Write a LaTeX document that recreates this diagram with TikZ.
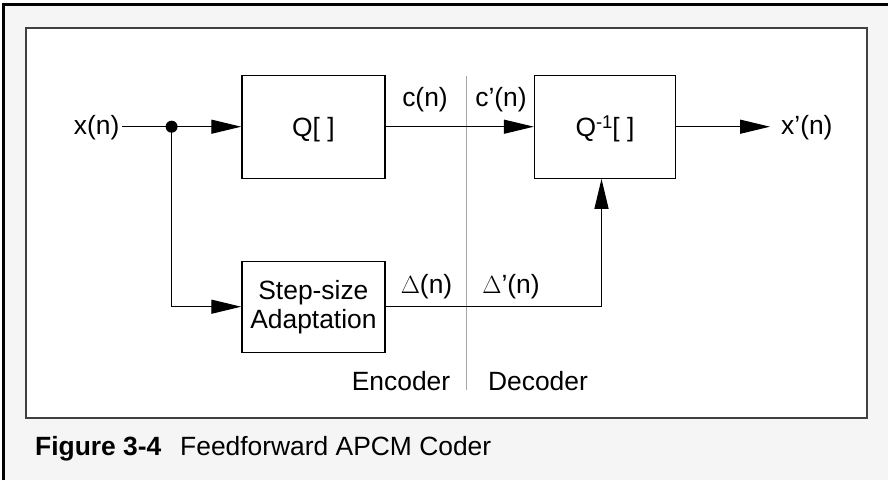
\documentclass[tikz,border=0pt]{standalone}
\usepackage{fontspec}
\setmainfont{Liberation Sans}
\usetikzlibrary{arrows.meta}
\tikzset{
    blk/.style={draw, line width=1.3pt, minimum width=143pt, minimum height=103pt, inner sep=0pt, text height=19pt, text depth=0pt},
    lbl/.style={anchor=base, inner sep=0pt},
    sig/.style={line width=1.3pt},
    arr/.style={sig, -{Triangle[length=30pt,width=14pt]}},
}
\begin{document}
\begin{tikzpicture}[x=1pt, y=-1pt, font=\fontsize{26.4}{29}\selectfont]
    \useasboundingbox (0,0) rectangle (888,480);
    \fill[black!4] (3.5,4.5) rectangle (888,480);
    \draw[line width=3pt] (3.5,480) -- (3.5,4.5) -- (888,4.5);
    \draw[fill=white, draw=black!75, line width=2pt] (26,28) rectangle (867,418);
    \coordinate (divtop) at (466.6,76);
    \coordinate (divbot) at (466.6,390);
    \draw[black!35, line width=1pt] (divtop) -- (divbot);
    \node[blk] (q) at (313.4,126.7) {Q[ ]};
    \node[blk, minimum width=141pt] (qinv) at (605,126.7) {Q\raisebox{8pt}{\fontsize{18.5}{18.5}\selectfont -1}[ ]};
    \node[draw, line width=1.3pt, minimum width=143pt, minimum height=91pt, inner sep=0pt, align=center] (step) at (313.4,306.7) {Step-size\\Adaptation};
    \node[lbl, anchor=base east] (xin) at (119.5,134) {x(n)};
    \node[lbl, anchor=base west] (xout) at (781,134) {x'(n)};
    \node[lbl] (cenc) at (425,106) {c(n)};
    \node[lbl] (cdec) at (501,106) {c'(n)};
    \node[lbl] (denc) at (426.5,293) {$\Delta$(n)};
    \node[lbl] (ddec) at (511,293) {$\Delta$'(n)};
    \node[lbl] (enc) at (401,390) {Encoder};
    \node[lbl] (dec) at (538,390) {Decoder};
    \node[lbl, anchor=base west] (cap) at (35,455) {\textbf{Figure 3-4}\hspace{11.5pt} Feedforward APCM Coder};
    \coordinate (split) at (171.6,126.7);
    \coordinate (outtip) at (770,126.7);
    \coordinate (bend) at (601.5,306.7);
    \draw[sig] ([xshift=2.5pt]split -| xin.east) -- (split);
    \draw[arr] (split) -- (q.west);
    \draw[arr] (split) |- (step.west);
    \fill (split) circle (6pt);
    \draw[arr] (q.east) -- (qinv.west);
    \draw[arr] (qinv.east) -- (outtip);
    \draw[sig] (step.east) -- (bend);
    \draw[arr] (bend) -- (bend |- qinv.south);
\end{tikzpicture}
\end{document}
